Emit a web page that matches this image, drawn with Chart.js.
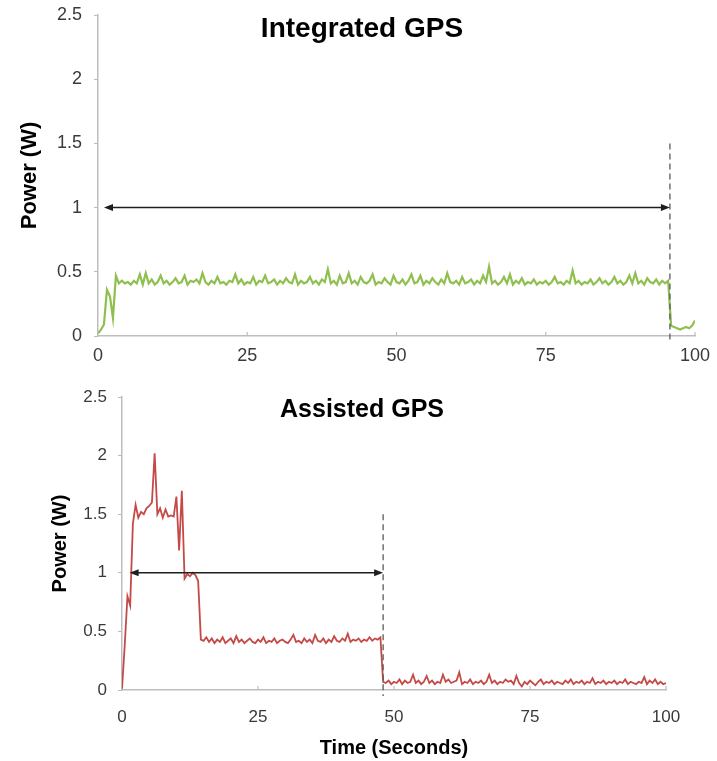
<!DOCTYPE html>
<html>
<head>
<meta charset="utf-8">
<script src="https://cdn.jsdelivr.net/npm/chart.js@4.4.1/dist/chart.umd.min.js"></script>
<style>
  html, body { margin: 0; padding: 0; background: #fff; }
  #wrap { position: relative; width: 717px; height: 761px; }
  canvas { position: absolute; left: 0; }
  #integrated { top: 0; }
  #assisted { top: 380px; }
</style>
</head>
<body>
<div id="wrap">
  <canvas id="integrated" width="717" height="380"></canvas>
  <canvas id="assisted" width="717" height="381"></canvas>
</div>
<script>
// Sampling interval of the power traces, in seconds
const TIME_STEP = 0.5;

// Axis ticks
const timeTicks = [0, 25, 50, 75, 100];
const powerTicks = [0, 0.5, 1, 1.5, 2, 2.5];

// Power draw (W) with the integrated GPS receiver, one value every TIME_STEP from 0 to 100 s
const integratedPower = [
  0.02, 0.05, 0.09, 0.36, 0.31, 0.14, 0.47, 0.41, 0.43, 0.41,
  0.42, 0.40, 0.43, 0.41, 0.48, 0.40, 0.49, 0.41, 0.44, 0.40,
  0.42, 0.47, 0.41, 0.43, 0.40, 0.42, 0.45, 0.41, 0.42, 0.47,
  0.40, 0.43, 0.42, 0.44, 0.41, 0.49, 0.42, 0.40, 0.43, 0.41,
  0.46, 0.41, 0.42, 0.40, 0.43, 0.42, 0.48, 0.41, 0.44, 0.40,
  0.42, 0.41, 0.46, 0.40, 0.43, 0.42, 0.47, 0.41, 0.42, 0.44,
  0.40, 0.43, 0.41, 0.45, 0.42, 0.41, 0.48, 0.40, 0.43, 0.41,
  0.42, 0.46, 0.41, 0.43, 0.40, 0.44, 0.42, 0.52, 0.41, 0.43,
  0.40, 0.47, 0.41, 0.42, 0.49, 0.41, 0.43, 0.40, 0.46, 0.42,
  0.41, 0.43, 0.48, 0.40, 0.42, 0.41, 0.45, 0.42, 0.40, 0.47,
  0.42, 0.41, 0.44, 0.40, 0.43, 0.48, 0.41, 0.42, 0.47, 0.40,
  0.43, 0.41, 0.45, 0.42, 0.40, 0.44, 0.41, 0.49, 0.42, 0.41,
  0.43, 0.40, 0.46, 0.41, 0.42, 0.44, 0.40, 0.43, 0.41, 0.47,
  0.42, 0.54, 0.41, 0.43, 0.40, 0.42, 0.46, 0.41, 0.48, 0.40,
  0.43, 0.41, 0.45, 0.40, 0.42, 0.41, 0.44, 0.40, 0.42, 0.41,
  0.43, 0.40, 0.42, 0.46, 0.41, 0.42, 0.40, 0.43, 0.41, 0.51,
  0.41, 0.43, 0.40, 0.42, 0.41, 0.44, 0.40, 0.42, 0.45, 0.41,
  0.43, 0.40, 0.42, 0.46, 0.41, 0.43, 0.40, 0.42, 0.47, 0.41,
  0.49, 0.41, 0.43, 0.40, 0.45, 0.42, 0.41, 0.44, 0.40, 0.43,
  0.41, 0.43, 0.08, 0.07, 0.06, 0.05, 0.06, 0.07, 0.06, 0.08,
  0.12
];

// Power draw (W) with assisted GPS, same sampling
const assistedPower = [
  0.01, 0.38, 0.80, 0.72, 1.42, 1.58, 1.47, 1.52, 1.50, 1.55,
  1.57, 1.60, 2.02, 1.50, 1.55, 1.47, 1.54, 1.48, 1.49, 1.48,
  1.65, 1.19, 1.70, 0.95, 0.99, 0.97, 1.00, 0.98, 0.93, 0.43,
  0.42, 0.45, 0.41, 0.44, 0.40, 0.43, 0.41, 0.45, 0.40, 0.42,
  0.44, 0.40, 0.46, 0.41, 0.43, 0.40, 0.42, 0.44, 0.41, 0.40,
  0.43, 0.41, 0.45, 0.40, 0.42, 0.41, 0.44, 0.40, 0.42, 0.43,
  0.41, 0.40, 0.43, 0.47, 0.41, 0.42, 0.40, 0.44, 0.41, 0.43,
  0.40, 0.47, 0.42, 0.41, 0.44, 0.40, 0.43, 0.41, 0.46, 0.42,
  0.41, 0.44, 0.42, 0.48, 0.41, 0.43, 0.42, 0.44, 0.41, 0.43,
  0.42, 0.45, 0.42, 0.44, 0.43, 0.45, 0.07, 0.06, 0.08, 0.05,
  0.07, 0.06, 0.09, 0.05, 0.08, 0.06, 0.07, 0.13, 0.06, 0.08,
  0.05, 0.07, 0.12, 0.06, 0.08, 0.05, 0.07, 0.06, 0.13, 0.07,
  0.09, 0.06, 0.07, 0.08, 0.15, 0.05, 0.07, 0.06, 0.09, 0.05,
  0.07, 0.06, 0.08, 0.05, 0.07, 0.13, 0.06, 0.08, 0.05, 0.07,
  0.06, 0.09, 0.07, 0.08, 0.05, 0.12, 0.06, 0.03, 0.07, 0.05,
  0.08, 0.06, 0.04, 0.07, 0.09, 0.05, 0.07, 0.06, 0.08, 0.05,
  0.07, 0.06, 0.05, 0.08, 0.06, 0.09, 0.05, 0.07, 0.06, 0.08,
  0.05, 0.07, 0.06, 0.10, 0.05, 0.07, 0.06, 0.08, 0.05, 0.07,
  0.06, 0.08, 0.05, 0.07, 0.06, 0.09, 0.05, 0.07, 0.06, 0.05,
  0.07, 0.06, 0.11, 0.05, 0.08, 0.06, 0.09, 0.05, 0.07, 0.05,
  0.06
];

// Time-to-fix spans (s): arrow start / end, drawn at 1 W; dashed marker up to 1.5 W
const integratedFix = [1, 95.8];
const assistedFix = [1.4, 48];
const arrowLevel = 1;
const markerTop = 1.5;

const FONT = '"Liberation Sans", Arial, Helvetica, sans-serif';
const AXIS_COLOR = '#bdbdbd';
const TICK_COLOR = '#3a3a3a';

const toPoints = arr => arr.map((v, i) => ({ x: i * TIME_STEP, y: v }));

// Draws inward x tick marks, the time-to-fix arrow, the dashed marker and the panel title
const overlay = {
  id: 'overlay',
  afterDatasetsDraw(chart, args, o) {
    const { ctx, scales: { x, y } } = chart;
    ctx.save();

    ctx.strokeStyle = AXIS_COLOR;
    ctx.lineWidth = 1.2;
    x.ticks.forEach(t => {
      if (t.value === 0) return;
      const px = x.getPixelForValue(t.value);
      ctx.beginPath();
      ctx.moveTo(px, y.bottom);
      ctx.lineTo(px, y.bottom - 4);
      ctx.stroke();
    });

    const mx = x.getPixelForValue(o.fix[1]);
    ctx.setLineDash([6, 4]);
    ctx.strokeStyle = '#5a5a5a';
    ctx.lineWidth = 1.3;
    ctx.beginPath();
    ctx.moveTo(mx, y.getPixelForValue(markerTop));
    ctx.lineTo(mx, y.bottom + 6);
    ctx.stroke();
    ctx.setLineDash([]);

    const ay = y.getPixelForValue(arrowLevel);
    const x1 = x.getPixelForValue(o.fix[0]);
    const x2 = x.getPixelForValue(o.fix[1]);
    const head = 9, half = 3.5;
    ctx.strokeStyle = '#1e1e1e';
    ctx.fillStyle = '#1e1e1e';
    ctx.lineWidth = 1.5;
    ctx.beginPath();
    ctx.moveTo(x1 + head - 1, ay);
    ctx.lineTo(x2 - head + 1, ay);
    ctx.stroke();
    ctx.beginPath();
    ctx.moveTo(x1, ay);
    ctx.lineTo(x1 + head, ay - half);
    ctx.lineTo(x1 + head, ay + half);
    ctx.closePath();
    ctx.fill();
    ctx.beginPath();
    ctx.moveTo(x2, ay);
    ctx.lineTo(x2 - head, ay - half);
    ctx.lineTo(x2 - head, ay + half);
    ctx.closePath();
    ctx.fill();

    ctx.fillStyle = '#000';
    ctx.font = 'bold ' + o.titleSize + 'px ' + FONT;
    ctx.textAlign = 'center';
    ctx.textBaseline = 'alphabetic';
    ctx.fillText(o.title, 362, 37);
    ctx.restore();
  }
};

function makeChart(id, cfg) {
  return new Chart(document.getElementById(id), {
    type: 'line',
    data: {
      datasets: [{
        data: toPoints(cfg.values),
        borderColor: cfg.color,
        borderWidth: cfg.lineWidth,
        pointRadius: 0,
        tension: 0,
        fill: false
      }]
    },
    options: {
      responsive: false,
      animation: false,
      events: [],
      layout: { padding: cfg.padding },
      plugins: {
        legend: { display: false },
        title: { display: false },
        tooltip: { enabled: false },
        overlay: { title: cfg.title, titleSize: cfg.titleSize, fix: cfg.fix }
      },
      scales: {
        x: {
          type: 'linear',
          min: 0,
          max: 100,
          afterBuildTicks: s => { s.ticks = timeTicks.map(v => ({ value: v })); },
          ticks: {
            color: TICK_COLOR, font: { size: cfg.tickSize, family: FONT },
            padding: cfg.xPad, maxRotation: 0, autoSkip: false,
            callback: v => String(v)
          },
          grid: { display: false, drawTicks: false },
          border: { display: true, color: AXIS_COLOR, width: 1.5 },
          title: cfg.xTitle ? {
            display: true, text: cfg.xTitle, color: '#000',
            font: { size: 20, weight: 'bold', family: FONT }, padding: { top: 0, bottom: 1 }
          } : { display: false },
          afterFit: s => { s.height = cfg.xHeight; s.paddingLeft = 0; s.paddingRight = 0; }
        },
        y: {
          min: 0,
          max: 2.5,
          afterBuildTicks: s => { s.ticks = powerTicks.map(v => ({ value: v })); },
          ticks: {
            color: TICK_COLOR, font: { size: cfg.tickSize, family: FONT },
            padding: cfg.yPad, callback: v => String(v)
          },
          grid: { display: true, drawOnChartArea: false, drawTicks: true, tickLength: 4, color: AXIS_COLOR },
          border: { display: true, color: AXIS_COLOR, width: 1.5 },
          title: {
            display: true, text: 'Power (W)', color: '#000',
            font: { size: cfg.yTitleSize, weight: 'bold', family: FONT }, padding: { top: cfg.yTitlePad, bottom: 0 }
          },
          afterFit: s => { s.width = cfg.yWidth; s.paddingTop = 0; s.paddingBottom = 0; }
        }
      }
    },
    plugins: [overlay]
  });
}

makeChart('integrated', {
  values: integratedPower, color: '#8fbf4f', lineWidth: 2.2,
  title: 'Integrated GPS', titleSize: 28, fix: integratedFix,
  padding: { top: 15, right: 22, bottom: 0, left: 0 },
  tickSize: 18, xPad: 9, yPad: 12, xHeight: 44, yWidth: 98,
  yTitleSize: 22, yTitlePad: 17, xTitle: null
});

makeChart('assisted', {
  values: assistedPower, color: '#c44a48', lineWidth: 1.8,
  title: 'Assisted GPS', titleSize: 25, fix: assistedFix,
  padding: { top: 17, right: 51, bottom: 0, left: 0 },
  tickSize: 17, xPad: 17, yPad: 11, xHeight: 71, yWidth: 122,
  yTitleSize: 20, yTitlePad: 48, xTitle: 'Time (Seconds)'
});
</script>
</body>
</html>
